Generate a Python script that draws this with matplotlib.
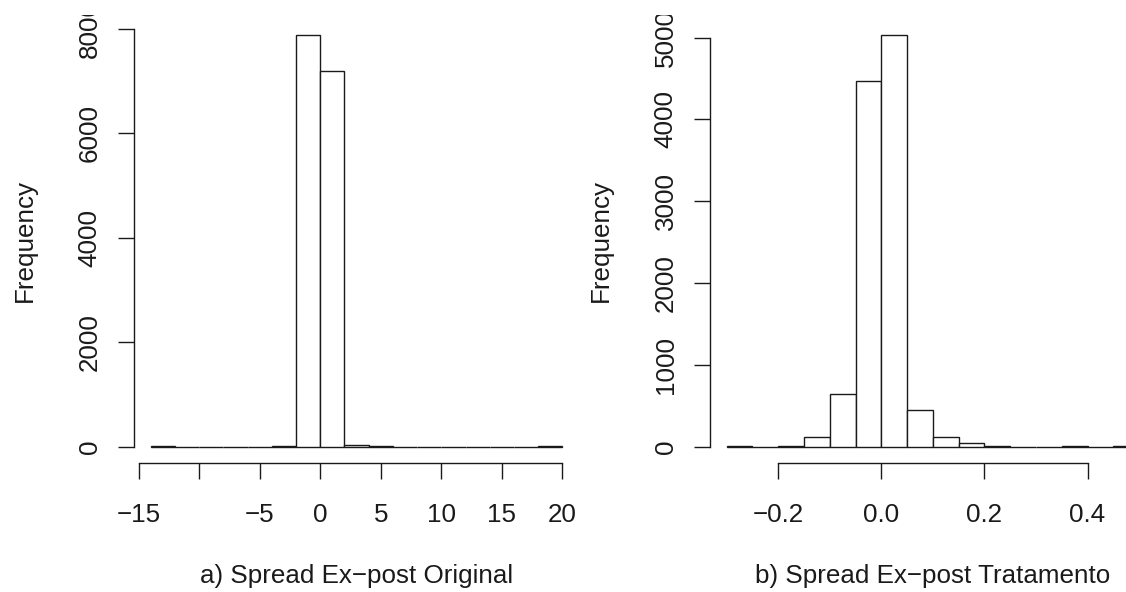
import numpy as np
import matplotlib
matplotlib.use('Agg')
import matplotlib.pyplot as plt
from matplotlib.transforms import Bbox, TransformedBbox

# histogram a) original spread
orig_breaks = [-14, -12, -10, -8, -6, -4, -2, 0, 2, 4, 6, 8, 10, 12, 14, 16, 18, 20]
orig_counts = [4, 1, 1, 1, 2, 18, 7885, 7190, 30, 5, 2, 1, 1, 1, 2, 0, 3]
orig_xticks = [-15, -10, -5, 0, 5, 10, 15, 20]
orig_xlabels = ['\u221215', '', '\u22125', '0', '5', '10', '15', '20']
orig_yticks = [0, 2000, 4000, 6000, 8000]

# histogram b) treated spread
trat_breaks = [-0.30, -0.25, -0.20, -0.15, -0.10, -0.05, 0.00, 0.05, 0.10,
               0.15, 0.20, 0.25, 0.30, 0.35, 0.40, 0.45, 0.50]
trat_counts = [5, 1, 8, 115, 640, 4469, 5037, 446, 118, 42, 6, 1, 1, 4, 1, 3]
trat_xticks = [-0.2, 0.0, 0.2, 0.4]
trat_xlabels = ['\u22120.2', '0.0', '0.2', '0.4']
trat_yticks = [0, 1000, 2000, 3000, 4000, 5000]

titles = ['a) Spread Ex\u2212post Original', 'b) Spread Ex\u2212post Tratamento']

plt.rcParams['font.family'] = ['Liberation Sans', 'DejaVu Sans']
plt.rcParams['font.size'] = 18.7
plt.rcParams['text.color'] = '#1a1a1a'
plt.rcParams['xtick.color'] = '#1a1a1a'
plt.rcParams['ytick.color'] = '#1a1a1a'
plt.rcParams['axes.labelcolor'] = '#1a1a1a'

W, H = 1126, 592
fig = plt.figure(figsize=(W / 100, H / 100), dpi=100)
LW = 1.0
INK = '#1a1a1a'


def r_hist(ax, breaks, counts, xticks, xlabels, yticks, xlabel):
    breaks = np.asarray(breaks, dtype=float)
    counts = np.asarray(counts, dtype=float)
    ax.bar(breaks[:-1], counts, width=np.diff(breaks), align='edge',
           facecolor='white', edgecolor=INK, linewidth=LW)
    span = breaks[-1] - breaks[0]
    ax.set_xlim(breaks[0] - 0.04 * span, breaks[-1] + 0.04 * span)
    ax.set_ylim(-0.04 * counts.max(), 1.04 * counts.max())

    for side in ['top', 'right']:
        ax.spines[side].set_visible(False)
    ax.spines['left'].set_bounds(yticks[0], yticks[-1])
    ax.spines['bottom'].set_bounds(xticks[0], xticks[-1])
    for side in ['left', 'bottom']:
        ax.spines[side].set_linewidth(LW)
        ax.spines[side].set_color(INK)

    ax.set_xticks(xticks)
    ax.set_xticklabels(xlabels)
    ax.set_yticks(yticks)
    ax.set_yticklabels([str(v) for v in yticks], rotation=90, va='center')
    ax.tick_params(axis='both', direction='out', length=11.5, width=LW)
    ax.tick_params(axis='x', pad=17)
    ax.tick_params(axis='y', pad=12)
    ax.set_xlabel(xlabel, labelpad=27)
    ax.set_ylabel('Frequency', labelpad=29.5)
    ax.patch.set_visible(False)


ax1 = fig.add_axes([134.4 / W, 128.9 / H, 444.4 / W, 444.9 / H])
r_hist(ax1, orig_breaks, orig_counts, orig_xticks, orig_xlabels, orig_yticks, titles[0])

ax2 = fig.add_axes([710.2 / W, 128.9 / H, 445.4 / W, 444.9 / H])
r_hist(ax2, trat_breaks, trat_counts, trat_xticks, trat_xlabels, trat_yticks, titles[1])

# the source figure is cut off just above the top tick labels
fig.canvas.draw()
clip = TransformedBbox(Bbox([[0, 0], [1, 1 - 15 / H]]), fig.transFigure)
for ax in (ax1, ax2):
    for lab in ax.get_yticklabels():
        lab.set_clip_box(clip)
        lab.set_clip_on(True)

fig.savefig('out.png', dpi=100, facecolor='white')
